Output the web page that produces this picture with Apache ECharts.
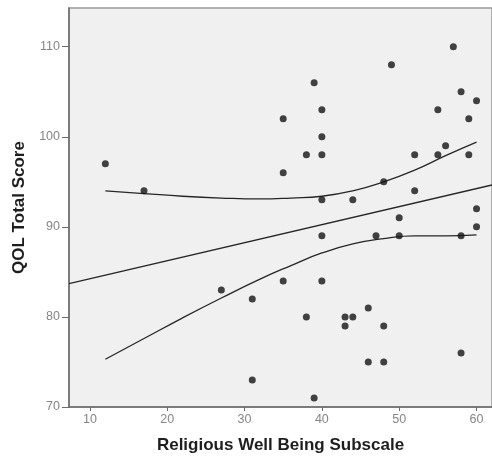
<!DOCTYPE html>
<html lang="en">
<head>
    <meta charset="UTF-8">
    <title>QOL vs Religious Well Being</title>
    <style>
        html, body { margin: 0; padding: 0; background: #fff; }
    </style>
</head>
<body>
<div id="container" style="width: 492px; height: 461px"></div>
<script type="text/javascript" src="https://cdn.jsdelivr.net/npm/echarts@6.0.0/dist/echarts.min.js"></script>
<script type="text/javascript">
    var religWB = [12, 17, 27, 31, 31, 35, 35, 35, 38, 38, 39, 39, 40, 40, 40, 40, 40, 40,
        43, 43, 44, 44, 46, 46, 47, 48, 48, 48, 49, 50, 50, 52, 52, 55, 55, 56, 57,
        58, 58, 58, 59, 59, 60, 60, 60];
    var qolTotal = [97, 94, 83, 82, 73, 102, 96, 84, 98, 80, 106, 71, 103, 100, 98, 93, 89, 84,
        80, 79, 80, 93, 81, 75, 89, 95, 79, 75, 108, 91, 89, 98, 94, 103, 98, 99, 110,
        105, 89, 76, 102, 98, 104, 92, 90];

    // fit line ends
    var fitX = [7.3, 62];
    var fitY = [83.7, 94.65];

    // 95% band, read at these x positions
    var bandX = [12, 17, 22, 27, 32, 36, 40, 44, 48, 52, 56, 60];
    var upperBand = [94.0, 93.7, 93.4, 93.2, 93.1, 93.2, 93.4, 94.0, 95.0, 96.3, 97.9, 99.4];
    var lowerBand = [75.3, 77.6, 79.9, 82.1, 84.2, 85.7, 87.1, 88.1, 88.7, 89.0, 89.0, 89.1];

    var xTicks = [10, 20, 30, 40, 50, 60];
    var yTicks = [70, 80, 90, 100, 110];

    function zip(a, b) {
        return a.map(function (v, i) { return [v, b[i]]; });
    }

    var myChart = echarts.init(document.getElementById('container'));

    var lineStyle = {color: '#262626', width: 1.3};
    var axisFont = {color: '#858585', fontSize: 12.5, fontFamily: 'Liberation Sans'};
    var titleFont = {fontFamily: 'Liberation Sans', fontWeight: 'bold', fontSize: 17, color: '#1e1e1e'};

    var option = {
        animation: false,
        grid: {
            left: 69,
            top: 8,
            right: 0,
            bottom: 54,
            show: true,
            backgroundColor: '#f0f0f0',
            borderColor: '#9a9a9a',
            borderWidth: 1.5
        },
        xAxis: {
            type: 'value',
            min: 7.3,
            max: 62,
            name: 'Religious Well Being Subscale',
            nameLocation: 'middle',
            nameGap: 30,
            nameTextStyle: titleFont,
            axisLine: {onZero: false, lineStyle: {color: '#6a6a6a', width: 1.5}},
            axisTick: {customValues: xTicks, length: 4, lineStyle: {color: '#6a6a6a'}},
            axisLabel: Object.assign({customValues: xTicks, margin: 6}, axisFont),
            splitLine: {show: false}
        },
        yAxis: {
            type: 'value',
            min: 70,
            max: 114.3,
            name: 'QOL Total Score',
            nameLocation: 'middle',
            nameGap: 37,
            nameTextStyle: titleFont,
            axisLine: {show: true, lineStyle: {color: '#6a6a6a', width: 1.5}},
            axisTick: {show: true, customValues: yTicks, length: 7, lineStyle: {color: '#6a6a6a'}},
            axisLabel: Object.assign({customValues: yTicks, margin: 9}, axisFont),
            splitLine: {show: false}
        },
        series: [
            {
                type: 'line',
                data: zip(fitX, fitY),
                showSymbol: false,
                lineStyle: lineStyle,
                z: 2
            },
            {
                type: 'line',
                data: zip(bandX, upperBand),
                smooth: true,
                showSymbol: false,
                lineStyle: lineStyle,
                z: 2
            },
            {
                type: 'line',
                data: zip(bandX, lowerBand),
                smooth: true,
                showSymbol: false,
                lineStyle: lineStyle,
                z: 2
            },
            {
                type: 'scatter',
                data: zip(religWB, qolTotal),
                symbol: 'circle',
                symbolSize: 7,
                itemStyle: {color: '#141414'},
                z: 3
            }
        ]
    };

    myChart.setOption(option);
</script>
</body>
</html>
